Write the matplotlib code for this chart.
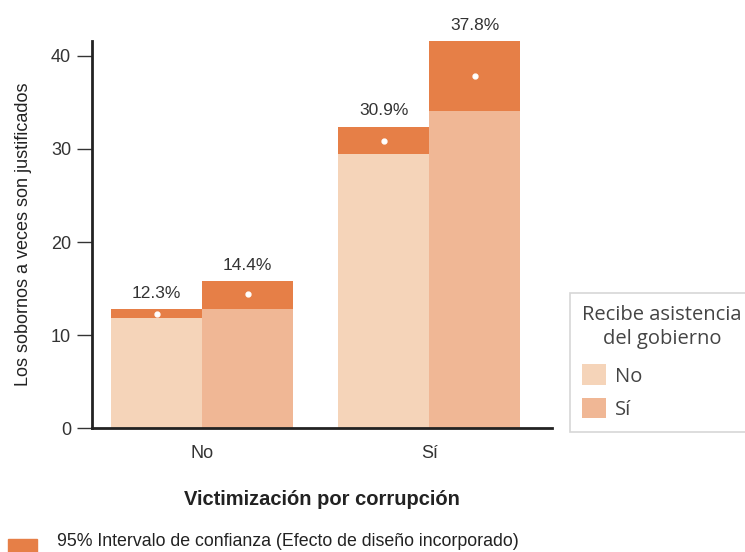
import matplotlib
matplotlib.use("Agg")
import matplotlib.pyplot as plt
from matplotlib.patches import Patch
from matplotlib import font_manager as fm

# data
grupos = ["No", "Sí"]                 # Victimización por corrupción
asistencia = ["No", "Sí"]             # Recibe asistencia del gobierno
media = [[12.3, 14.4], [30.9, 37.8]]
ci_bajo = [[11.8, 12.8], [29.4, 34.1]]
ci_alto = [[12.8, 15.8], [32.4, 41.6]]

col_barras = ["#f5d4b9", "#f0b795"]
col_ci = "#e67f47"

names = sorted(set(f.name for f in fm.fontManager.ttflist))
narrow_fam = "Liberation Sans Narrow" if "Liberation Sans Narrow" in names else "Liberation Sans"


def fp(size, weight="normal"):
    return fm.FontProperties(family=narrow_fam, size=size, weight=weight)


fig = plt.figure(figsize=(7.45, 5.52), dpi=100)
ax = fig.add_axes([0.1235, 0.224, 0.6175, 0.702])

w = 0.4
for g in range(len(grupos)):
    for j in range(len(asistencia)):
        x = g + (j - 0.5) * w
        ax.bar(x, ci_bajo[g][j], width=w, color=col_barras[j], linewidth=0)
        ax.bar(x, ci_alto[g][j] - ci_bajo[g][j], bottom=ci_bajo[g][j],
               width=w, color=col_ci, linewidth=0)
        ax.plot(x, media[g][j], "o", color="white", markersize=3.5)
        ax.annotate("%.1f%%" % media[g][j], (x, ci_alto[g][j]),
                    xytext=(0, 6), textcoords="offset points",
                    ha="center", va="bottom", fontproperties=fp(12.5),
                    color="#333333")

ax.set_xlim(-0.485, 1.54)
ax.set_ylim(0, 41.6)
ax.set_yticks([0, 10, 20, 30, 40])
ax.set_xticks([0, 1])
ax.set_xticklabels(grupos)
ax.tick_params(axis="x", length=0, pad=12, colors="#333333")
ax.tick_params(axis="y", length=11, width=1, pad=4, colors="#333333")
for t in ax.get_xticklabels() + ax.get_yticklabels():
    t.set_fontproperties(fp(13))
for s in ["top", "right"]:
    ax.spines[s].set_visible(False)
for s in ["left", "bottom"]:
    ax.spines[s].set_linewidth(2)
    ax.spines[s].set_color("#222222")

ax.set_ylabel("Los sobornos a veces son justificados", fontproperties=fp(13),
              color="#222222", labelpad=14)
ax.set_xlabel("Victimización por corrupción", fontproperties=fp(14.5, "bold"),
              color="#222222", labelpad=20)

leg_fp = fm.FontProperties(family="Open Sans", size=14.5)
handles = [Patch(facecolor=c, edgecolor="none") for c in col_barras]
leg = fig.legend(handles, asistencia, title="Recibe asistencia\ndel gobierno",
                 loc="upper left", bbox_to_anchor=(0.765, 0.47),
                 frameon=True, fancybox=False, prop=leg_fp,
                 title_fontproperties=leg_fp, handlelength=1.2,
                 handleheight=1.2, handletextpad=0.45, borderpad=0.6,
                 labelspacing=0.55, borderaxespad=0)
leg.get_frame().set_edgecolor("#cccccc")
leg.get_frame().set_linewidth(1.2)
leg.get_title().set_color("#444444")
leg.get_title().set_multialignment("center")
leg.get_title().set_linespacing(1.3)
leg._legend_box.align = "left"
leg._legend_box.sep = 11
for t in leg.get_texts():
    t.set_color("#444444")

fig.patches.append(plt.Rectangle((8 / 745, 0), 29 / 745, 13 / 552,
                                 transform=fig.transFigure, color=col_ci))
fig.text(57 / 745, 11 / 552, "95% Intervalo de confianza (Efecto de diseño incorporado)",
         fontproperties=fp(12.8), color="#222222", va="center")

fig.savefig("out.png", dpi=100)
